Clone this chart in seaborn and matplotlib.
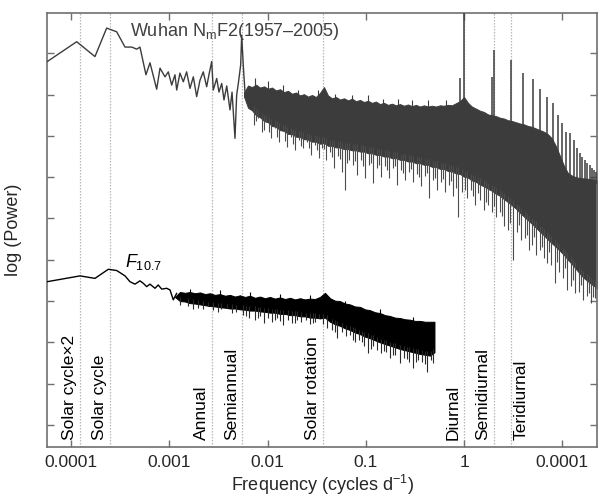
import numpy as np
import matplotlib
matplotlib.use("Agg")
import matplotlib.pyplot as plt
import matplotlib.transforms as mtransforms
from matplotlib.ticker import NullLocator
import seaborn as sns

# ---------------- data (log10 frequency [cycles/day], log power [arb.]) ----------------
# Wuhan NmF2 spectrum: resolved low-frequency part
wuhan_line_logf = [-4.241, -3.942, -3.756, -3.637, -3.535, -3.450, -3.382, -3.331, -3.298,
                   -3.237, -3.196, -3.128, -3.094, -3.043, -3.010, -2.975, -2.942, -2.924,
                   -2.891, -2.857, -2.823, -2.789, -2.755, -2.721, -2.687, -2.654, -2.619,
                   -2.596, -2.568, -2.552, -2.517, -2.494, -2.466, -2.443, -2.415, -2.382,
                   -2.361, -2.331, -2.314, -2.297, -2.273, -2.263, -2.246, -2.229]
wuhan_line_logp = [8.80, 9.28, 8.92, 9.61, 9.52, 9.15, 9.15, 9.10, 9.15,
                   8.48, 8.77, 8.13, 8.64, 8.43, 8.55, 8.23, 8.48, 8.11,
                   8.52, 8.31, 8.55, 8.15, 8.43, 7.95, 8.35, 8.55, 8.19,
                   8.48, 8.80, 8.11, 8.39, 8.06, 8.27, 7.87, 8.21, 7.63,
                   8.06, 6.94, 7.99, 8.27, 8.72, 9.44, 8.68, 8.05]
# Wuhan NmF2 spectrum: dense part (upper / lower edge of the dark band)
wuhan_band_logf = [-2.239, -2.198, -2.158, -2.117, -2.076, -2.035, -1.995, -1.954, -1.913, -1.873,
                   -1.832, -1.791, -1.751, -1.710, -1.669, -1.629, -1.588, -1.547, -1.507, -1.466,
                   -1.425, -1.385, -1.344, -1.303, -1.262, -1.222, -1.181, -1.140, -1.100, -1.059,
                   -1.018, -0.978, -0.937, -0.896, -0.856, -0.815, -0.774, -0.734, -0.693, -0.652,
                   -0.611, -0.571, -0.530, -0.489, -0.449, -0.408, -0.367, -0.327, -0.286, -0.245,
                   -0.205, -0.164, -0.123, -0.083, -0.042, 0.000, 0.040, 0.080, 0.121, 0.162,
                   0.202, 0.243, 0.284, 0.324, 0.365, 0.406, 0.446, 0.487, 0.528, 0.568,
                   0.609, 0.650, 0.691, 0.731, 0.772, 0.813, 0.853, 0.894, 0.935, 0.975,
                   1.016, 1.057, 1.097, 1.138, 1.179, 1.219, 1.260, 1.301, 1.341, 1.353]
wuhan_band_upper = [8.05, 8.22, 8.18, 8.24, 8.17, 8.20, 8.14, 8.17, 8.10, 8.13,
                    8.06, 8.09, 8.02, 8.05, 7.98, 8.01, 7.95, 7.99, 7.94, 8.04,
                    8.18, 7.98, 7.91, 7.94, 7.88, 7.91, 7.86, 7.90, 7.84, 7.87,
                    7.82, 7.85, 7.80, 7.83, 7.77, 7.80, 7.75, 7.78, 7.74, 7.77,
                    7.73, 7.76, 7.72, 7.75, 7.71, 7.74, 7.71, 7.73, 7.71, 7.74,
                    7.73, 7.75, 7.74, 7.79, 7.84, 7.94, 7.80, 7.71, 7.66, 7.61,
                    7.58, 7.52, 7.50, 7.48, 7.44, 7.42, 7.38, 7.36, 7.33, 7.30,
                    7.28, 7.24, 7.22, 7.18, 7.14, 7.10, 7.04, 6.94, 6.75, 6.52,
                    6.28, 6.10, 6.04, 6.00, 5.98, 5.97, 5.96, 5.95, 5.93, 5.93]
wuhan_band_lower = [7.95, 7.68, 7.62, 7.50, 7.45, 7.36, 7.33, 7.24, 7.22, 7.14,
                    7.12, 7.05, 7.04, 6.98, 6.97, 6.92, 6.91, 6.86, 6.86, 6.81,
                    6.83, 6.76, 6.76, 6.72, 6.72, 6.68, 6.68, 6.65, 6.65, 6.62,
                    6.62, 6.58, 6.58, 6.54, 6.54, 6.50, 6.50, 6.46, 6.46, 6.42,
                    6.42, 6.38, 6.38, 6.34, 6.34, 6.30, 6.30, 6.25, 6.25, 6.20,
                    6.20, 6.15, 6.14, 6.09, 6.08, 6.01, 5.99, 5.92, 5.89, 5.82,
                    5.78, 5.72, 5.67, 5.60, 5.55, 5.47, 5.40, 5.32, 5.24, 5.14,
                    5.05, 4.96, 4.87, 4.78, 4.68, 4.59, 4.49, 4.40, 4.31, 4.22,
                    4.12, 4.00, 3.90, 3.78, 3.66, 3.56, 3.48, 3.40, 3.34, 3.30]
# downward dips below the Wuhan band
wuhan_dip_logf = [-2.138, -2.097, -2.056, -2.016, -1.965, -1.924, -1.883, -1.842, -1.802, -1.761,
                  -1.720, -1.680, -1.639, -1.598, -1.558, -1.517, -1.476, -1.446, -1.405, -1.364,
                  -1.323, -1.283, -1.242, -1.211, -1.171, -1.130, -1.089, -1.049, -1.008, -0.967,
                  -0.927, -0.886, -0.845, -0.804, -0.764, -0.723, -0.682, -0.642, -0.601, -0.560,
                  -0.519, -0.479, -0.438, -0.397, -0.357, -0.316, -0.275, -0.234, -0.194, -0.153,
                  -0.112, -0.061, -0.021, 0.030, 0.071, 0.112, 0.162, 0.203, 0.244, 0.285,
                  0.325, 0.366, 0.407, 0.447, 0.498, 0.539, 0.580, 0.620, 0.661, 0.692,
                  0.732, 0.773, 0.814, 0.844, 0.885, 0.926, 0.966, 1.007, 1.048, 1.089,
                  1.129, 1.170, 1.211, 1.251, 1.292, 1.333,
                  -2.117, -2.036, -1.985, -1.904, -1.822, -1.741, -1.659, -1.578, -1.496, -1.425,
                  -1.344, -1.262, -1.191, -1.110, -1.028, -0.947, -0.866, -0.784, -0.703, -0.621,
                  -0.540, -0.458, -0.377, -0.296, -0.214, -0.133, -0.082, 0.010, 0.091, 0.142,
                  0.223, 0.305, 0.386, 0.468, 0.559, 0.641, 0.712, 0.793, 0.865, 0.946,
                  1.027, 1.109, 1.190, 1.272, 1.312]
wuhan_dip_logp = [7.26, 7.43, 7.09, 7.34, 6.94, 7.19, 6.85, 7.14, 6.73, 6.97,
                  6.66, 6.90, 6.71, 6.85, 6.54, 6.78, 6.47, 6.71, 6.42, 6.61,
                  6.22, 6.51, 6.13, 5.69, 6.42, 6.30, 6.05, 6.42, 5.98, 6.30,
                  5.86, 6.22, 6.01, 6.27, 5.98, 6.22, 5.81, 6.17, 5.93, 6.13,
                  5.88, 6.08, 5.79, 6.03, 5.50, 5.93, 5.69, 5.88, 5.64, 5.81,
                  5.54, 5.04, 5.64, 5.50, 5.69, 5.33, 5.45, 5.21, 5.33, 5.16,
                  5.04, 5.16, 4.82, 4.72, 4.00, 4.67, 4.48, 4.53, 4.24, 4.36,
                  4.12, 4.24, 4.04, 3.92, 3.87, 3.44, 3.70, 3.56, 3.27, 3.37,
                  3.20, 3.22, 3.03, 3.12, 2.95, 3.07,
                  7.35, 7.15, 7.10, 6.98, 6.88, 6.80, 6.75, 6.70, 6.66, 6.68,
                  6.50, 6.45, 6.35, 6.40, 6.28, 6.34, 6.30, 6.18, 6.28, 6.10,
                  6.20, 6.00, 6.10, 5.98, 5.95, 5.90, 5.75, 5.70, 5.55, 5.62,
                  5.40, 5.30, 5.05, 4.90, 4.85, 4.60, 4.55, 4.30, 4.20, 3.95,
                  3.80, 3.50, 3.40, 3.20, 3.10]
# upward bumps above the Wuhan band
wuhan_bump_logf = [-2.127, -1.995, -1.842, -1.690, -1.486, -1.313, -1.140, -0.977, -0.825,
                   -0.672, -0.530, -0.367, -0.184]
wuhan_bump_logp = [8.40, 8.33, 8.22, 8.12, 8.10, 8.02, 8.00, 7.98, 7.90,
                   7.90, 7.86, 7.88, 7.88]
# tidal lines (diurnal and harmonics)
tide_logf = [-0.043, 0.000, 0.284, 0.301, 0.477, 0.602, 0.699, 0.778, 0.845, 0.903,
             0.954, 1.000, 1.041, 1.079, 1.114, 1.146, 1.176, 1.204, 1.230, 1.255,
             1.279, 1.301, 1.322, 1.342]
tide_logp = [8.40, 10.00, 8.43, 9.08, 8.84, 8.53, 8.37, 8.13, 7.93, 7.79,
             7.51, 7.31, 7.10, 7.07, 6.90, 6.71, 6.59, 6.49, 6.42, 6.34,
             6.30, 6.22, 6.17, 6.13]

# F10.7 spectrum: resolved low-frequency part
f107_line_logf = [-4.241, -3.908, -3.756, -3.620, -3.535, -3.450, -3.400, -3.349, -3.298,
                  -3.264, -3.230, -3.196, -3.145, -3.112, -3.077, -3.026, -2.992, -2.959,
                  -2.924]
f107_line_logp = [3.47, 3.61, 3.55, 3.77, 3.74, 3.61, 3.47, 3.41, 3.49,
                  3.43, 3.35, 3.41, 3.31, 3.39, 3.29, 3.31, 3.27, 3.03,
                  3.19]
# F10.7 dense part
f107_band_logf = [-2.942, -2.891, -2.840, -2.789, -2.738, -2.687, -2.636, -2.585, -2.535, -2.484,
                  -2.433, -2.382, -2.331, -2.280, -2.229, -2.178, -2.127, -2.077, -2.026, -1.975,
                  -1.924, -1.873, -1.822, -1.771, -1.720, -1.669, -1.619, -1.568, -1.517, -1.466,
                  -1.415, -1.364, -1.313, -1.262, -1.211, -1.161, -1.110, -1.059, -1.008, -0.957,
                  -0.906, -0.855, -0.804, -0.754, -0.703, -0.652, -0.601, -0.550, -0.499, -0.448,
                  -0.397, -0.346, -0.301]
f107_band_upper = [3.10, 3.22, 3.20, 3.22, 3.19, 3.21, 3.17, 3.19, 3.15, 3.17,
                   3.13, 3.15, 3.11, 3.14, 3.10, 3.13, 3.08, 3.11, 3.07, 3.10,
                   3.06, 3.09, 3.05, 3.08, 3.04, 3.07, 3.04, 3.06, 3.05, 3.10,
                   3.20, 3.07, 3.01, 3.00, 2.94, 2.92, 2.87, 2.86, 2.80, 2.78,
                   2.73, 2.71, 2.66, 2.64, 2.60, 2.59, 2.56, 2.55, 2.52, 2.52,
                   2.50, 2.50, 2.50]
f107_band_lower = [3.10, 3.00, 2.99, 2.95, 2.94, 2.92, 2.90, 2.88, 2.87, 2.85,
                   2.84, 2.82, 2.82, 2.80, 2.79, 2.77, 2.77, 2.75, 2.74, 2.72,
                   2.72, 2.69, 2.69, 2.66, 2.66, 2.63, 2.63, 2.60, 2.60, 2.58,
                   2.60, 2.50, 2.44, 2.40, 2.34, 2.30, 2.24, 2.20, 2.14, 2.10,
                   2.05, 2.00, 1.96, 1.92, 1.88, 1.84, 1.81, 1.78, 1.75, 1.72,
                   1.70, 1.68, 1.76]
f107_dip_logf = [-2.809, -2.708, -2.606, -2.555, -2.473, -2.412, -2.321, -2.250, -2.188, -2.127,
                 -2.077, -2.036, -1.995, -1.954, -1.904, -1.842, -1.792, -1.751, -1.700, -1.659,
                 -1.608, -1.568, -1.517, -1.476, -1.395, -1.344, -1.293, -1.242, -1.201, -1.161,
                 -1.110, -1.069, -1.018, -0.977, -0.927, -0.886, -0.845, -0.794, -0.754, -0.703,
                 -0.652, -0.611, -0.560, -0.519, -0.469, -0.428, -0.377, -0.336,
                 -2.891, -2.758, -2.657, -2.504, -2.361, -2.219, -2.097, -1.924, -1.873, -1.720,
                 -1.537, -1.435, -1.313, -1.130, -1.039, -0.947, -0.815, -0.723, -0.581, -0.489,
                 -0.397, -0.316]
f107_dip_logp = [2.88, 2.83, 2.88, 2.78, 2.81, 2.83, 2.74, 2.66, 2.59, 2.54,
                 2.64, 2.47, 2.59, 2.49, 2.59, 2.42, 2.54, 2.47, 2.54, 2.49,
                 2.54, 2.45, 2.49, 2.59, 2.35, 2.30, 2.11, 2.25, 2.15, 2.18,
                 2.01, 2.06, 1.91, 1.74, 1.91, 1.82, 1.74, 1.77, 1.62, 1.69,
                 1.50, 1.62, 1.53, 1.38, 1.57, 1.53, 1.28, 1.57,
                 2.90, 2.82, 2.80, 2.74, 2.70, 2.64, 2.58, 2.55, 2.52, 2.48,
                 2.47, 2.45, 2.25, 2.05, 2.00, 1.85, 1.78, 1.70, 1.60, 1.52,
                 1.48, 1.50]
f107_bump_logf = [-2.789, -2.484, -2.178, -1.873, -1.568, -1.211, -0.855, -0.519]
f107_bump_logp = [3.30, 3.27, 3.22, 3.18, 3.15, 3.00, 2.80, 2.62]

# reference periodicities (cycles/day)
ref_freqs = [1 / (22 * 365.25), 1 / (11 * 365.25), 1 / 365.25, 2 / 365.25, 1 / 27.0, 1.0, 2.0, 3.0]
ref_names = ["Solar cycle×2", "Solar cycle", "Annual", "Semiannual", "Solar rotation",
             "Diurnal", "Semidiurnal", "Teridiurnal"]
ref_label_side = ["left", "left", "left", "left", "left", "left", "left", "right"]

xtick_vals = [1e-4, 1e-3, 1e-2, 1e-1, 1e0, 1e1]
xtick_labels = ["0.0001", "0.001", "0.01", "0.1", "1", "0.0001"]

# ---------------- style ----------------
sns.set_theme(style="ticks")
plt.rcParams["font.family"] = ["Liberation Sans", "DejaVu Sans"]
plt.rcParams["mathtext.fontset"] = "custom"
plt.rcParams["mathtext.rm"] = "Liberation Sans"
plt.rcParams["mathtext.it"] = "Liberation Sans:italic"
plt.rcParams["mathtext.bf"] = "Liberation Sans:bold"

WUHAN_C = "#3c3c3c"
F107_C = "#000000"
SPINE_C = "#707070"

fig = plt.figure(figsize=(5.98, 4.97), dpi=100)
ax = fig.add_axes([47.3 / 598, 50 / 497, 549.7 / 598, 433.7 / 497])
ax.set_xscale("log")

# reference lines
for f in ref_freqs:
    ax.axvline(f, color="#b8b8b8", lw=0.9, ls=(0, (1.2, 1.2)), zorder=0)

# Wuhan spectrum
wb_f = 10 ** np.array(wuhan_band_logf)
ax.fill_between(wb_f, wuhan_band_lower, wuhan_band_upper, color=WUHAN_C, lw=0.7,
                edgecolor=WUHAN_C, zorder=2)
ax.vlines(10 ** np.array(wuhan_dip_logf), wuhan_dip_logp,
          np.interp(wuhan_dip_logf, wuhan_band_logf, wuhan_band_lower) + 0.15,
          color="#4c4c4c", lw=0.8, zorder=2)
ax.vlines(10 ** np.array(wuhan_bump_logf),
          np.interp(wuhan_bump_logf, wuhan_band_logf, wuhan_band_upper) - 0.1,
          wuhan_bump_logp, color=WUHAN_C, lw=0.8, zorder=2)
ax.vlines(10 ** np.array(tide_logf), np.interp(tide_logf, wuhan_band_logf, wuhan_band_upper) - 0.1,
          tide_logp, color=WUHAN_C, lw=1.1, zorder=3)
sns.lineplot(x=10 ** np.array(wuhan_line_logf), y=wuhan_line_logp, ax=ax, color=WUHAN_C,
             lw=1.0, sort=False, estimator=None, zorder=3)

# F10.7 spectrum
fb_f = 10 ** np.array(f107_band_logf)
ax.fill_between(fb_f, f107_band_lower, f107_band_upper, color=F107_C, lw=0.7,
                edgecolor=F107_C, zorder=2)
ax.vlines(10 ** np.array(f107_dip_logf), f107_dip_logp,
          np.interp(f107_dip_logf, f107_band_logf, f107_band_lower) + 0.1,
          color="#2a2a2a", lw=0.8, zorder=2)
ax.vlines(10 ** np.array(f107_bump_logf),
          np.interp(f107_bump_logf, f107_band_logf, f107_band_upper) - 0.1,
          f107_bump_logp, color=F107_C, lw=0.8, zorder=2)
sns.lineplot(x=10 ** np.array(f107_line_logf), y=f107_line_logp, ax=ax, color=F107_C,
             lw=1.0, sort=False, estimator=None, zorder=3)

# labels of the periodicities
trans_l = mtransforms.offset_copy(ax.get_xaxis_transform(), fig=fig, x=-3, y=7, units="dots")
trans_r = mtransforms.offset_copy(ax.get_xaxis_transform(), fig=fig, x=3, y=7, units="dots")
for f, name, side in zip(ref_freqs, ref_names, ref_label_side):
    if side == "left":
        ax.text(f, 0, name, rotation=90, ha="right", va="bottom", fontsize=12.5,
                color="black", transform=trans_l)
    else:
        ax.text(f, 0, name, rotation=90, ha="left", va="bottom", fontsize=12.5,
                color="black", transform=trans_r)

ax.text(10 ** -3.400, 9.42, "Wuhan N$_{\\mathrm{m}}$F2(1957–2005)", fontsize=13,
        color="#404040", ha="left", va="baseline")
ax.text(10 ** -3.450, 3.83, "$F_{\\mathrm{10.7}}$", fontsize=13, color="black",
        ha="left", va="baseline")

# axes
ax.set_xlim(10 ** -4.241, 10 ** 1.353)
ax.set_ylim(-0.533, 9.968)
ax.set_xticks(xtick_vals)
ax.set_xticklabels(xtick_labels)
ax.xaxis.set_minor_locator(NullLocator())
ax.set_yticks(range(10))
ax.set_yticklabels([])
ax.tick_params(axis="both", which="both", direction="in", top=True, right=True,
               length=5, width=1.0, color=SPINE_C, labelsize=12.5, pad=6)
for s in ax.spines.values():
    s.set_color(SPINE_C)
    s.set_linewidth(1.2)
ax.set_xlabel("Frequency (cycles d$^{\\mathrm{-1}}$)", fontsize=13, labelpad=2)
ax.set_ylabel("log (Power)", fontsize=13, labelpad=12)

fig.savefig("out.png", dpi=100)
